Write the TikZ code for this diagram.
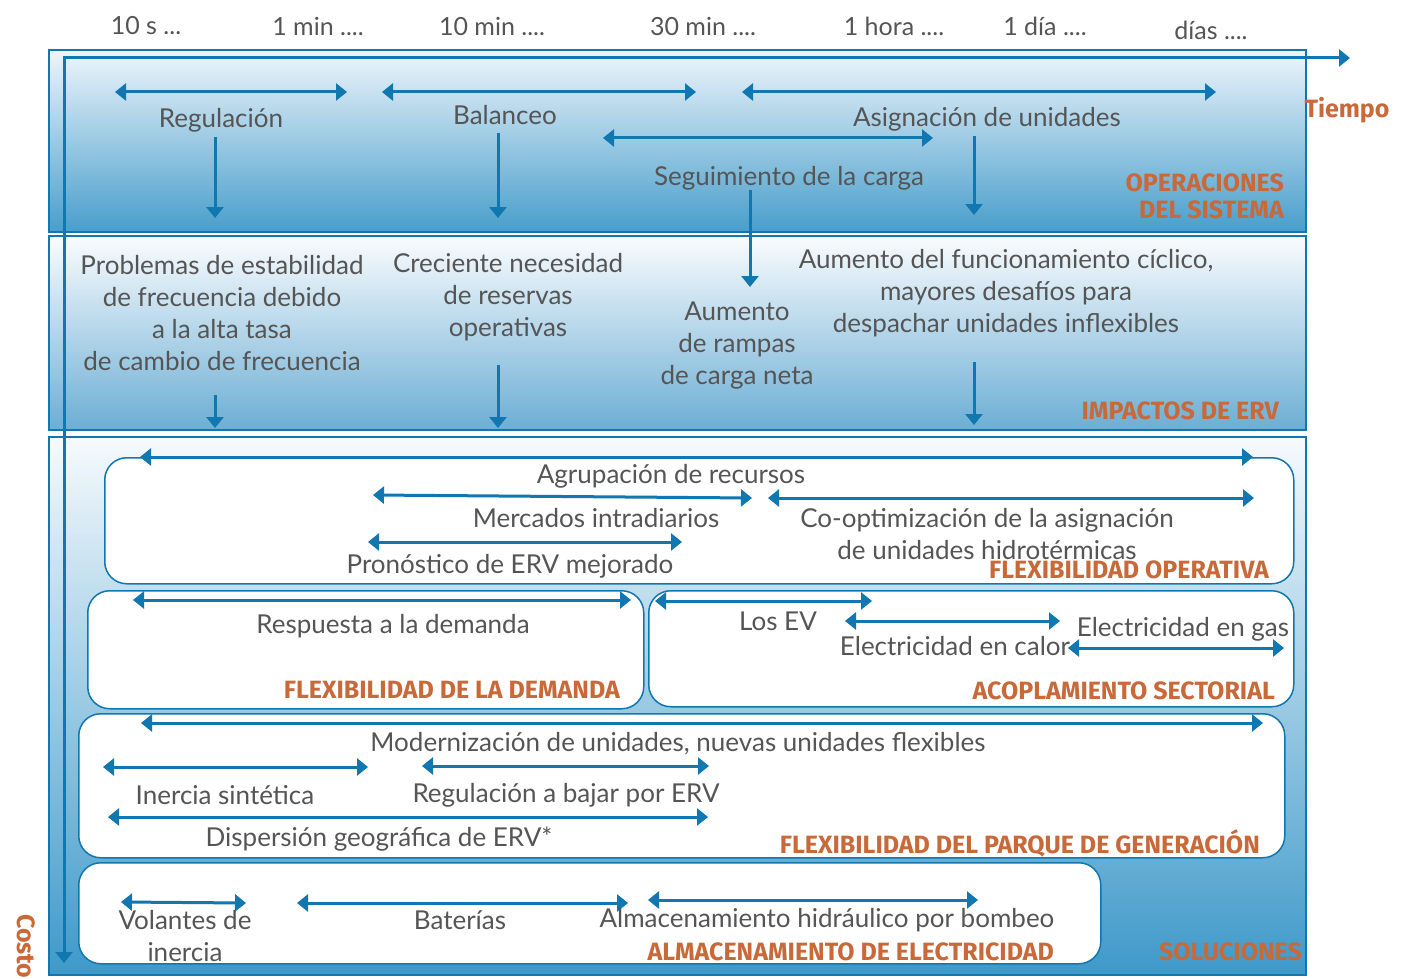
\documentclass[tikz,border=0pt]{standalone}
\usepackage{fontspec}
\setmainfont{Lato}
\newfontfamily\lblfont{Fira Sans}
\usetikzlibrary{arrows.meta}
\definecolor{ablue}{RGB}{16,119,176}
\definecolor{txt}{RGB}{85,85,85}
\definecolor{org}{RGB}{200,105,58}
\definecolor{gtop}{RGB}{238,245,251}
\definecolor{gbot}{RGB}{72,158,203}
\definecolor{itop}{RGB}{250,252,254}
\definecolor{ibot}{RGB}{108,174,212}
\definecolor{stop}{RGB}{246,250,253}
\definecolor{sbot}{RGB}{62,153,201}
\tikzset{
  tip/.tip={Triangle[length=11pt,width=17pt]},
  dar/.style={draw=ablue, line width=3pt, tip-tip},
  sar/.style={draw=ablue, line width=3pt, -tip},
  lab/.style={text=txt, font=\fontsize{26}{32}\selectfont, align=center, inner sep=0pt},
  cat/.style={text=org, font=\lblfont\bfseries\fontsize{25}{28}\selectfont, inner sep=0pt, anchor=east, align=right},
  panel/.style={draw=ablue, line width=2pt},
  sbox/.style={draw=ablue, line width=1.5pt, fill=white, rounded corners=22pt},
  tlab/.style={text=txt, font=\fontsize{25}{30}\selectfont, inner sep=0pt},
}
\begin{document}
\begin{tikzpicture}[x=1pt,y=-1pt]
\useasboundingbox (0,0) rectangle (1403,979);
% panels
\draw[panel, top color=gtop, bottom color=gbot] (49,50) rectangle (1306,232);
\draw[panel, top color=itop, bottom color=ibot] (49,236) rectangle (1306,430);
\draw[panel, top color=stop, bottom color=sbot] (49,437) rectangle (1306,975);
% solution boxes
\node[sbox, minimum width=1189pt, minimum height=126pt, anchor=north west] (bop) at (104,457) {};
\node[sbox, minimum width=556pt, minimum height=118pt, anchor=north west] (bdem) at (87,590) {};
\node[sbox, minimum width=645pt, minimum height=116pt, anchor=north west] (bsec) at (648,590) {};
\node[sbox, minimum width=1206pt, minimum height=144pt, anchor=north west] (bgen) at (78,713) {};
\node[sbox, minimum width=1022pt, minimum height=101pt, anchor=north west] (bsto) at (78,862) {};
% axes
\coordinate (origin) at (64,58);
\coordinate (tend) at (1350,58);
\coordinate (cend) at (64,963);
\draw[sar, line cap=rect] (origin) -- (tend);
\draw[sar, line cap=rect] (origin) -- (cend);
\node[cat, anchor=center] (tiempo) at (1347,110) {Tiempo};
\node[cat, rotate=-90, anchor=west] (costo) at (26,914) {Costo};
% time labels
\node[tlab] (t1) at (146,26) {10 s ...};
\node[tlab] (t2) at (318,26) {1 min ....};
\node[tlab] (t3) at (492,26) {10 min ....};
\node[tlab] (t4) at (703,26) {30 min ....};
\node[tlab] (t5) at (894,26) {1 hora ....};
\node[tlab] (t6) at (1045,26) {1 día ....};
\node[tlab] (t7) at (1211,30) {días ....};
% operaciones
\coordinate (regA) at (115,92); \coordinate (regB) at (347,92);
\coordinate (balA) at (382,92); \coordinate (balB) at (696,92);
\coordinate (asiA) at (742,92); \coordinate (asiB) at (1216,92);
\coordinate (segA) at (603,138); \coordinate (segB) at (933,138);
\draw[dar] (regA) -- (regB);
\draw[dar] (balA) -- (balB);
\draw[dar] (asiA) -- (asiB);
\draw[dar] (segA) -- (segB);
\node[lab] (reg) at (221,120) {Regulación};
\node[lab] (bal) at (505,115) {Balanceo};
\node[lab] (asi) at (987,119) {Asignación de unidades};
\node[lab] (seg) at (789,178) {Seguimiento de la carga};
\coordinate (d1a) at (215,137); \coordinate (d1b) at (215,218);
\coordinate (d2a) at (498,133); \coordinate (d2b) at (498,218);
\coordinate (d3a) at (974,136); \coordinate (d3b) at (974,215);
\coordinate (d4a) at (750,190); \coordinate (d4b) at (750,287);
\draw[sar] (d1a) -- (d1b);
\draw[sar] (d2a) -- (d2b);
\draw[sar] (d3a) -- (d3b);
\draw[sar] (d4a) -- (d4b);
\node[cat] (ops) at (1284,196) {OPERACIONES\\[-1pt]DEL SISTEMA};
% impactos
\node[lab] (imp1) at (222,313) {Problemas de estabilidad\\de frecuencia debido\\a la alta tasa\\de cambio de frecuencia};
\node[lab] (imp2) at (508,297) {Creciente necesidad\\de reservas\\operativas};
\node[lab] (imp3) at (737,346) {Aumento\\de rampas\\de carga neta};
\node[lab] (imp4) at (1006,293) {Aumento del funcionamiento cíclico,\\mayores desafíos para\\despachar unidades inflexibles};
\coordinate (e1a) at (215,395); \coordinate (e1b) at (215,428);
\coordinate (e2a) at (498,365); \coordinate (e2b) at (498,428);
\coordinate (e3a) at (974,362); \coordinate (e3b) at (974,425);
\draw[sar] (e1a) -- (e1b);
\draw[sar] (e2a) -- (e2b);
\draw[sar] (e3a) -- (e3b);
\node[cat] (impl) at (1279,411) {IMPACTOS DE ERV};
% flexibilidad operativa
\coordinate (agA) at (140,457); \coordinate (agB) at (1253,457);
\coordinate (meA) at (373,495); \coordinate (meB) at (752,498);
\coordinate (coA) at (768,498); \coordinate (coB) at (1254,498);
\coordinate (prA) at (368,542); \coordinate (prB) at (682,542);
\draw[dar] (agA) -- (agB);
\draw[dar] (meA) -- (meB);
\draw[dar] (coA) -- (coB);
\draw[dar] (prA) -- (prB);
\node[lab] (ag) at (671,476) {Agrupación de recursos};
\node[lab] (me) at (596,518) {Mercados intradiarios};
\node[lab] (co) at (987,534) {Co-optimización de la asignación\\de unidades hidrotérmicas};
\node[lab] (pr) at (510,566) {Pronóstico de ERV mejorado};
\node[cat] (opl) at (1269,570) {FLEXIBILIDAD OPERATIVA};
% demanda
\coordinate (rdA) at (133,600); \coordinate (rdB) at (631,600);
\draw[dar] (rdA) -- (rdB);
\node[lab] (rd) at (393,626) {Respuesta a la demanda};
\node[cat] (deml) at (620,690) {FLEXIBILIDAD DE LA DEMANDA};
% sectorial
\coordinate (evA) at (655,601); \coordinate (evB) at (872,601);
\coordinate (caA) at (845,621); \coordinate (caB) at (1060,621);
\coordinate (gaA) at (1068,648); \coordinate (gaB) at (1284,648);
\draw[dar] (evA) -- (evB);
\draw[dar] (caA) -- (caB);
\draw[dar] (gaA) -- (gaB);
\node[lab] (ev) at (778,621) {Los EV};
\node[lab] (ca) at (955,646) {Electricidad en calor};
\node[lab] (ga) at (1183,629) {Electricidad en gas};
\node[cat] (secl) at (1275,691) {ACOPLAMIENTO SECTORIAL};
% generacion
\coordinate (moA) at (141,723); \coordinate (moB) at (1263,723);
\coordinate (inA) at (103,767); \coordinate (inB) at (368,767);
\coordinate (rbA) at (422,766); \coordinate (rbB) at (709,766);
\coordinate (diA) at (108,817); \coordinate (diB) at (708,817);
\draw[dar] (moA) -- (moB);
\draw[dar] (inA) -- (inB);
\draw[dar] (rbA) -- (rbB);
\draw[dar] (diA) -- (diB);
\node[lab] (mo) at (678,744) {Modernización de unidades, nuevas unidades flexibles};
\node[lab] (in) at (225,795) {Inercia sintética};
\node[lab] (rb) at (566,795) {Regulación a bajar por ERV};
\node[lab] (di) at (379,839) {Dispersión geográfica de ERV*};
\node[cat] (genl) at (1260,843) {FLEXIBILIDAD DEL PARQUE DE GENERACIÓN};
% almacenamiento
\coordinate (voA) at (121,902); \coordinate (voB) at (246,903);
\coordinate (baA) at (297,903); \coordinate (baB) at (628,903);
\coordinate (alA) at (648,900); \coordinate (alB) at (978,900);
\draw[dar] (voA) -- (voB);
\draw[dar] (baA) -- (baB);
\draw[dar] (alA) -- (alB);
\node[lab] (vo) at (185,936) {Volantes de\\inercia};
\node[lab] (ba) at (460,920) {Baterías};
\node[lab] (al) at (827,920) {Almacenamiento hidráulico por bombeo};
\node[cat] (stol) at (1054,952) {ALMACENAMIENTO DE ELECTRICIDAD};
\node[cat] (sol) at (1302,952) {SOLUCIONES};
\end{tikzpicture}
\end{document}
